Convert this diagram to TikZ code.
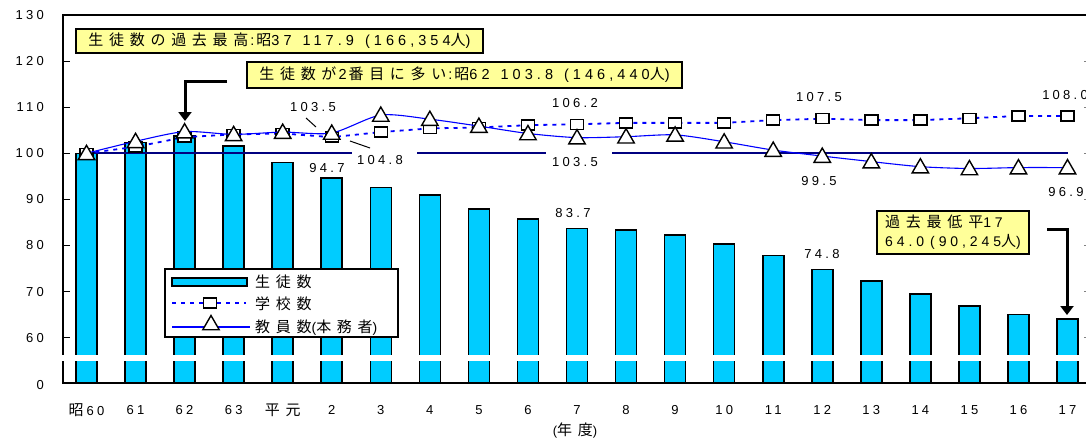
\documentclass[tikz,border=0pt]{standalone}
\usepackage{fontspec}
\setmainfont{Liberation Sans}[LetterSpace=25]
\newfontfamily\boxlat{Liberation Sans}[LetterSpace=28]
\newfontfamily\jpf{Noto Sans CJK JP}[LetterSpace=38]
\usetikzlibrary{shapes.geometric,arrows.meta}
\newcommand\jp[1]{{\jpf\fontsize{15}{17}\selectfont #1}}
\newcommand\gap{\hspace{11pt}}
\newcommand\cgap{\hspace{2pt}}
\definecolor{barc}{HTML}{00CCFF}
\definecolor{navyc}{HTML}{000080}
\definecolor{noteY}{HTML}{FFFF99}
\begin{document}
\begin{tikzpicture}[x=1pt,y=-1pt,font=\fontsize{13}{15}\selectfont,
  bar/.style={fill=barc,draw=black,line width=1.6pt},
  axis/.style={line width=1.8pt},
  sq/.style={draw,fill=white,line width=1.5pt,minimum width=13pt,minimum height=10pt,inner sep=0pt},
  tri/.style={regular polygon,regular polygon sides=3,draw,fill=white,line width=1.4pt,minimum size=19pt,inner sep=0pt},
  schoolline/.style={blue,line width=1.8pt,dash pattern=on 4pt off 5pt},
  teachline/.style={blue,line width=1.1pt},
  refline/.style={navyc,line width=1.8pt},
  note/.style={draw,fill=noteY,line width=1.8pt,inner sep=0pt,font=\boxlat\fontsize{14.5}{16}\selectfont},
  lab/.style={inner sep=0pt},
  legtext/.style={inner sep=0pt,anchor=west,font=\boxlat\fontsize{14}{16}\selectfont},
  arrowline/.style={line width=3pt,-{Triangle[width=13pt,length=9pt]}},
  leader/.style={line width=1pt}]
\useasboundingbox (0,0) rectangle (1086,439);
% bars
\foreach \v [count=\i from 0] in {100,102.3,103.8,101.6,98.0,94.7,92.6,91.0,87.9,85.7,83.7,83.4,82.3,80.3,77.8,74.8,72.3,69.5,66.9,65.0,64.0}{
  \draw[bar] ({86.5+49.05*\i-10.5},383) rectangle ({86.5+49.05*\i+10.5},{614.3-4.61*\v});
}
% axes
\draw[axis] (1086,15) -- (63,15) -- (63,383) -- (1086,383);
\foreach \v in {60,70,...,120}{
  \draw[line width=1.2pt] (63,{614.3-4.61*\v}) -- (70,{614.3-4.61*\v});
  \draw[gray,line width=0.8pt] (1084,{614.3-4.61*\v}) -- (1086,{614.3-4.61*\v});
}
% axis break
\fill[white] (56,354.5) rectangle (1086,360.5);
% y labels
\foreach \v in {60,70,...,130}{
  \node[lab,anchor=east] (yl\v) at (44,{614.3-4.61*\v}) {\v};
}
\node[lab,anchor=east] (yl0) at (44,385) {0};
% x labels
\foreach \t [count=\i from 0] in {\jp{昭}\hspace{3pt}60,61,62,63,\jp{平元},2,3,4,5,6,7,8,9,10,11,12,13,14,15,16,17}{
  \node[lab] (xl\i) at ({86.5+49.05*\i},410) {\t};
}
\node[lab] (xunit) at (575,431) {(\jp{年度})};
% reference line
\coordinate (r1a) at (87,153.3); \coordinate (r1b) at (352,153.3);
\coordinate (r2a) at (417,153.3); \coordinate (r2b) at (546,153.3);
\coordinate (r3a) at (612,153.3); \coordinate (r3b) at (1068,153.3);
\draw[refline] (r1a) -- (r1b) (r2a) -- (r2b) (r3a) -- (r3b);
% series coordinates
\foreach \v [count=\i from 0] in {100,101.4,103.5,104.1,104.3,103.5,104.6,105.4,105.6,106.1,106.3,106.6,106.6,106.6,107.2,107.5,107.2,107.2,107.6,108.1,108.1}{
  \coordinate (S\i) at ({86.5+49.05*\i},{614.3-4.61*\v});
}
\foreach \v [count=\i from 0] in {100,102.6,104.7,104.1,104.6,104.4,108.3,107.4,105.9,104.3,103.4,103.6,104.0,102.5,100.7,99.4,98.2,97.1,96.7,96.9,96.9}{
  \coordinate (T\i) at ({86.5+49.05*\i},{614.3-4.61*\v});
}
\draw[schoolline] (S0) \foreach \i in {1,...,20}{ -- (S\i)};
\foreach \i in {0,...,20}{ \node[sq] (sm\i) at (S\i) {}; }
\draw[teachline] plot[smooth,tension=0.45] coordinates {(T0) (T1) (T2) (T3) (T4) (T5) (T6) (T7) (T8) (T9) (T10) (T11) (T12) (T13) (T14) (T15) (T16) (T17) (T18) (T19) (T20)};
\foreach \i in {0,...,20}{ \node[tri,yshift=-1.5pt] (tm\i) at (T\i) {}; }
% data labels
\node[lab] (d1) at (313,107) {103.5};
\node[lab] (d2) at (380,160) {104.8};
\node[lab] (d3) at (327,168) {94.7};
\node[lab] (d4) at (575,103) {106.2};
\node[lab] (d5) at (575,162) {103.5};
\node[lab] (d6) at (573,213) {83.7};
\node[lab] (d7) at (819,97) {107.5};
\node[lab] (d8) at (1065,95) {108.0};
\node[lab] (d9) at (819,181) {99.5};
\node[lab] (d10) at (1066,192) {96.9};
\node[lab] (d11) at (822,254) {74.8};
\coordinate (l1a) at (306,118); \coordinate (l1b) at (316,127);
\coordinate (l2a) at (350,141); \coordinate (l2b) at (370,148);
\draw[leader] (l1a) -- (l1b);
\draw[leader] (l2a) -- (l2b);
% legend
\node[draw,fill=white,line width=1.8pt,minimum width=233pt,minimum height=68pt,inner sep=0pt] (legend) at (281.5,303) {};
\draw[fill=barc,line width=1.8pt] (172,278) rectangle (247,286);
\node[legtext] (lg1) at (255,282) {\jp{生徒数}};
\coordinate (lg2a) at (172,303); \coordinate (lg2b) at (246,303);
\draw[schoolline] (lg2a) -- (lg2b);
\node[sq] (lgsq) at (210,303) {};
\node[legtext] (lg2) at (255,304) {\jp{学校数}};
\coordinate (lg3a) at (172,327); \coordinate (lg3b) at (250,327);
\draw[blue,line width=1.8pt] (lg3a) -- (lg3b);
\node[tri] (lgtri) at (211,325) {};
\node[legtext] (lg3) at (255,328) {\jp{教員数}(\jp{本務者})};
% notes
\node[note,minimum width=407pt,minimum height=24pt] (n1) at (279.5,41) {\jp{生徒数の過去最高}\cgap:\cgap\jp{昭}37\gap{}117.9\gap{}(166,354\jp{人})};
\node[note,minimum width=435pt,minimum height=26pt] (n2) at (464.5,75) {\jp{生徒数が}\cgap 2\cgap\jp{番目に多い}\cgap:\cgap\jp{昭}62\gap{}103.8\gap{}(146,440\jp{人})};
\node[note,minimum width=152pt,minimum height=43pt,align=left,font=\boxlat\fontsize{14}{19}\selectfont] (n3) at (953,232.5) {\jp{過去最低}\hspace{6pt}\jp{平}17\\64.0\hspace{6pt}(90,245\jp{人})};
% arrows
\coordinate (a1s) at (227,81); \coordinate (a1e) at (185,121);
\draw[arrowline] (a1s) -| (a1e);
\coordinate (a2s) at (1047,229); \coordinate (a2e) at (1067,315);
\draw[arrowline] (a2s) -| (a2e);
\end{tikzpicture}
\end{document}
